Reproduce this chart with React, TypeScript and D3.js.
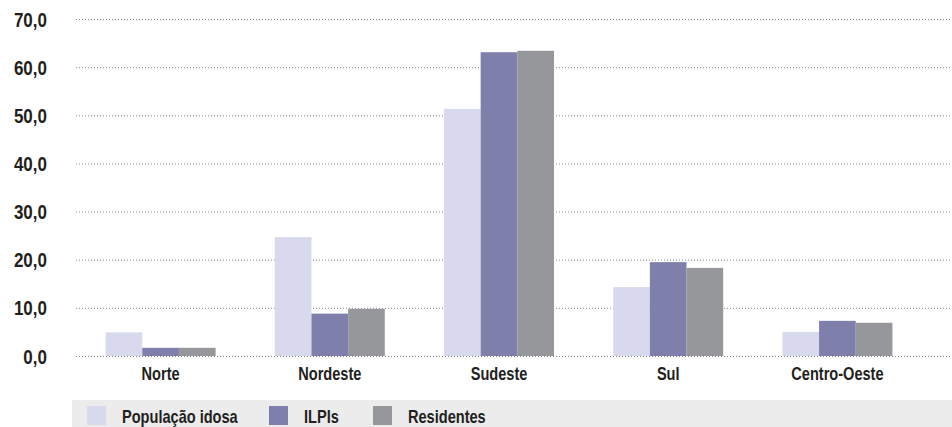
import React from 'react';
import * as d3 from 'd3';

// data
const regions = ['Norte', 'Nordeste', 'Sudeste', 'Sul', 'Centro-Oeste'];
const seriesNames = ['População idosa', 'ILPIs', 'Residentes'];
const populacaoIdosa = [4.9, 24.7, 51.3, 14.3, 5.0];
const ilpis = [1.7, 8.8, 63.1, 19.5, 7.3];
const residentes = [1.7, 9.8, 63.4, 18.3, 6.9];
const yTicks = [0, 10, 20, 30, 40, 50, 60, 70];

const colors = ['#d9d9ee', '#7e7fab', '#96979b'];
const font = '"Liberation Sans", Arial, sans-serif';
const squeeze = 0.81; // no condensed font around, so squash the glyphs horizontally

const W = 952;
const H = 427;

// condensed bold label
function Label(props: { x: number; y: number; size: number; anchor?: string; dy?: string; children: React.ReactNode }) {
  const { x, y, size, anchor, dy, children } = props;
  return (
    <text
      transform={`translate(${x},${y}) scale(${squeeze},1)`}
      dy={dy}
      textAnchor={anchor || 'start'}
      fontSize={size}
      fontWeight="bold"
      fill="#231f20"
    >
      {children}
    </text>
  );
}

export default function App() {
  const series = [populacaoIdosa, ilpis, residentes];

  const x0 = d3.scaleBand().domain(regions).range([76, 922]).paddingInner(0.35).paddingOuter(0.175);
  const x1 = d3.scaleBand().domain(seriesNames).range([0, x0.bandwidth()]);
  const y = d3.scaleLinear().domain([0, 70]).range([356, 19]);

  const fmt = (v: number) => d3.format('.1f')(v).replace('.', ',');

  // legend swatch positions
  const legendX = [87, 269, 373];

  return (
    <svg width={W} height={H} style={{ position: 'absolute', left: 0, top: 0 }} fontFamily={font}>
      <rect width={W} height={H} fill="#fff" />
      {/* gridlines */}
      {yTicks.map(t => (
        <line key={t} x1={76} x2={950} y1={y(t) + 0.5} y2={y(t) + 0.5} stroke="#8a8a8a" strokeWidth={1} strokeDasharray="1,2" />
      ))}
      {/* y labels */}
      {yTicks.map(t => (
        <Label key={'l' + t} x={47} y={y(t)} dy="0.36em" anchor="end" size={21}>
          {fmt(t)}
        </Label>
      ))}
      {/* bars */}
      {regions.map((r, i) => (
        <g key={r} transform={`translate(${x0(r)},0)`}>
          {seriesNames.map((s, j) => (
            <rect key={s} x={x1(s)} y={y(series[j][i])} width={x1.bandwidth()} height={y(0) - y(series[j][i])} fill={colors[j]} />
          ))}
        </g>
      ))}
      {/* category labels */}
      {regions.map(r => (
        <Label key={'c' + r} x={(x0(r) as number) + x0.bandwidth() / 2} y={380} anchor="middle" size={18}>
          {r}
        </Label>
      ))}
      {/* legend */}
      <rect x={72} y={400} width={W - 72} height={27} fill="#ececec" />
      {seriesNames.map((s, j) => (
        <g key={'lg' + s}>
          <rect x={legendX[j]} y={406} width={19} height={19} fill={colors[j]} />
          <Label x={legendX[j] + 35} y={423} size={18}>
            {s}
          </Label>
        </g>
      ))}
    </svg>
  );
}
